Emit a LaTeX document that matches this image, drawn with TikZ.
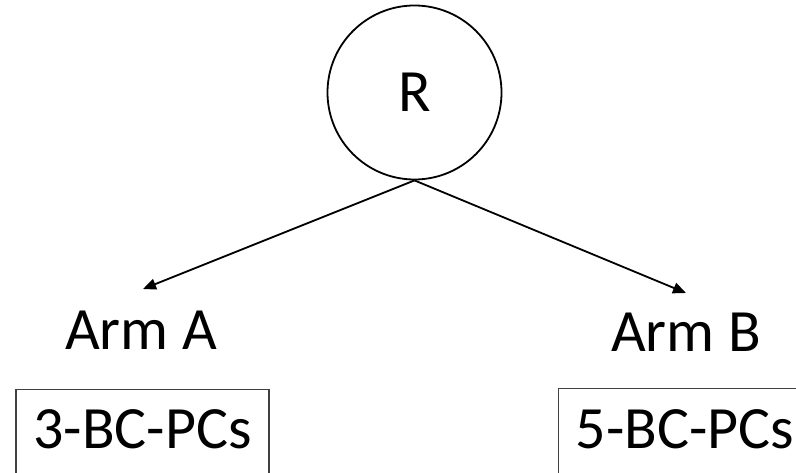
\documentclass[tikz,border=0pt]{standalone}
\usepackage{fontspec}
\setmainfont{Carlito}
\usetikzlibrary{arrows.meta}
\begin{document}
\begin{tikzpicture}[x=1pt,y=-1pt,
  lbl/.style={font=\fontsize{60}{62}\selectfont, inner sep=0pt, anchor=base},
  arr/.style={line width=1.8pt, -{Triangle[length=13pt,width=11pt]}},
  boxed/.style={draw=black!75, line width=1.4pt, font=\fontsize{60}{62}\selectfont,
     anchor=north, minimum width=253pt, inner xsep=0pt, inner ysep=0pt, text depth=45pt}]
\useasboundingbox (0,0) rectangle (796,473);
\clip (0,0) rectangle (796,473);
\node[draw, circle, line width=1.8pt, minimum size=174pt, inner sep=0pt,
      font=\fontsize{60}{62}\selectfont] (R) at (414.5,92.5) {R};
\coordinate (tipA) at (143,289);
\coordinate (tipB) at (686,293);
\draw[arr] (R.south) -- (tipA);
\draw[arr] (R.south) -- (tipB);
\node[lbl] (armA) at (141,350) {Arm A};
\node[lbl] (armB) at (686,352) {Arm B};
\node[boxed, text height=59pt] (boxA) at (142.5,389) {3-BC-PCs};
\node[boxed, text height=60pt] (boxB) at (685,388) {5-BC-PCs};
\end{tikzpicture}
\end{document}
